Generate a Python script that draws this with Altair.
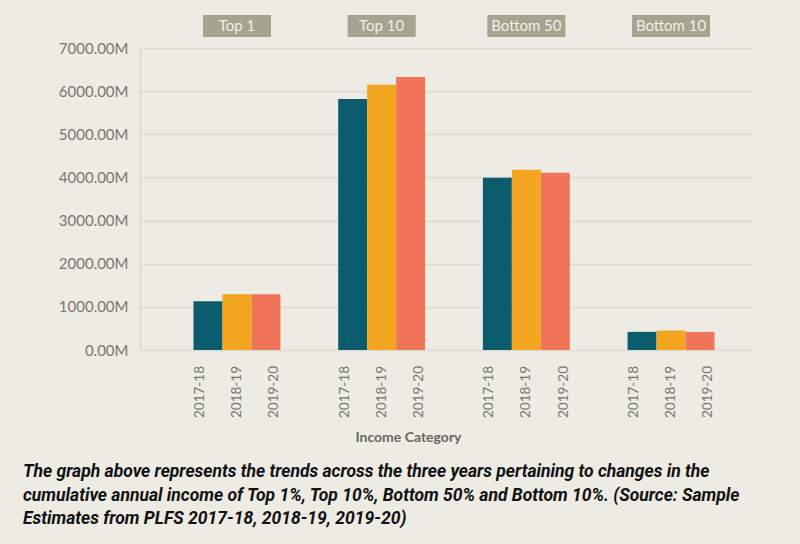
import altair as alt
import pandas as pd

# Income categories and survey years
groups = ["Top 1", "Top 10", "Bottom 50", "Bottom 10"]
years = ["2017-18", "2018-19", "2019-20"]

# Cumulative annual income (millions) per category, one value per year
top1 = [1130, 1290, 1290]
top10 = [5820, 6150, 6330]
bottom50 = [3990, 4180, 4110]
bottom10 = [420, 450, 420]

y_ticks = [0, 1000, 2000, 3000, 4000, 5000, 6000, 7000]
year_colors = ["#0b5d6e", "#f2a51f", "#f07558"]

caption = [
    "The graph above represents the trends across the three years pertaining to changes in the",
    "cumulative annual income of Top 1%, Top 10%, Bottom 50% and Bottom 10%. (Source: Sample",
    "Estimates from PLFS 2017-18, 2018-19, 2019-20)",
]

rows = []
for g, vals in zip(groups, [top1, top10, bottom50, bottom10]):
    for yr, v in zip(years, vals):
        rows.append({"group": g, "year": yr, "value": v})
df = pd.DataFrame(rows)
hdr = pd.DataFrame({"group": groups})

FONT = "Lato"

x_enc = alt.X(
    "group:N",
    sort=groups,
    scale=alt.Scale(paddingInner=0.399, paddingOuter=0.3145, align=0.588),
    axis=alt.Axis(
        labels=False, ticks=False, domain=False, grid=False,
        title="Income Category", titleX=268, titleY=80,
        titleAlign="center", titleBaseline="top",
        titleFont=FONT, titleFontSize=14, titleFontWeight="bold",
        titleColor="#68665f",
    ),
)

bars = alt.Chart(df).mark_bar().encode(
    x=x_enc,
    xOffset=alt.XOffset("year:N", sort=years,
                        scale=alt.Scale(paddingInner=0, paddingOuter=0)),
    y=alt.Y(
        "value:Q",
        scale=alt.Scale(domain=[0, 7000], nice=False),
        axis=alt.Axis(
            values=y_ticks,
            labelExpr="format(datum.value, '.2f') + 'M'",
            title=None, ticks=False, labelPadding=12,
            labelFont=FONT, labelFontSize=15, labelColor="#78766f",
            grid=True, gridColor="#dcd9d1", gridWidth=1.5,
            domain=True, domainColor="#d9d6ce", domainWidth=1.5,
        ),
    ),
    color=alt.Color("year:N", sort=years,
                    scale=alt.Scale(domain=years, range=year_colors),
                    legend=None),
)

year_labels = alt.Chart(df).mark_text(
    angle=270, align="right", baseline="middle",
    font=FONT, fontSize=13.5, color="#77756e",
).encode(
    x=alt.X("group:N", sort=groups),
    xOffset=alt.XOffset("year:N", sort=years,
                        scale=alt.Scale(paddingInner=0, paddingOuter=0.17)),
    y=alt.value(318),
    text="year:N",
)

header_box = alt.Chart(hdr).mark_bar(color="#a4a48f").encode(
    x=alt.X("group:N", sort=groups),
    y=alt.value(-33),
    y2=alt.value(-11),
    size=alt.condition("indexof(datum.group, 'Top') == 0",
                       alt.value(68), alt.value(78)),
)

header_text = alt.Chart(hdr).mark_text(
    font=FONT, fontSize=15, color="#f1efe8", baseline="middle",
).encode(
    x=alt.X("group:N", sort=groups),
    y=alt.value(-22),
    text="group:N",
)

chart = (
    alt.layer(bars, year_labels, header_box, header_text)
    .resolve_scale(xOffset="independent")
    .properties(
        width=612,
        height=302,
        autosize=alt.AutoSizeParams(type="none"),
        padding={"left": 140, "top": 48, "right": 48, "bottom": 194},
        background="#eeebe4",
        title=alt.TitleParams(
            text=caption, orient="bottom", anchor="start", frame="group",
            dx=-117, offset=19, baseline="top",
            font="Roboto", fontSize=17.5,
            fontStyle="italic", fontWeight="bold",
            color="#111111", lineHeight=23.5,
        ),
    )
    .configure_view(stroke=None)
)

chart.save("out.html", embed_options={"renderer": "svg", "actions": False})
